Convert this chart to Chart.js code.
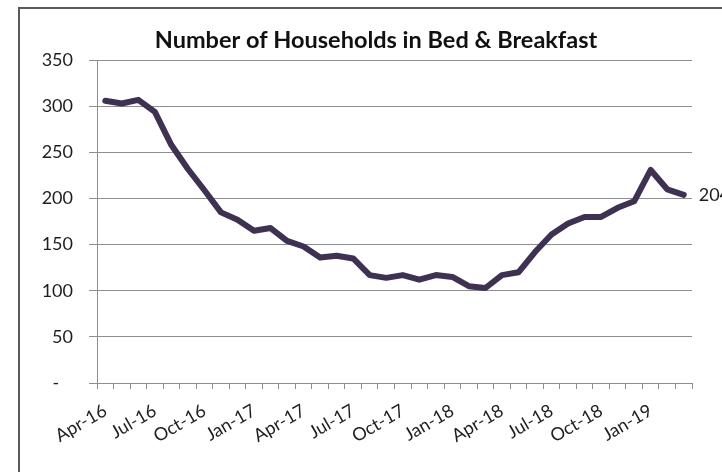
<!DOCTYPE html>
<html>
<head>
<meta charset="utf-8">
<title>Number of Households in Bed &amp; Breakfast</title>
<script src="https://cdn.jsdelivr.net/npm/chart.js@4/dist/chart.umd.min.js"></script>
<style>
	html, body { margin: 0; padding: 0; background: #fff; overflow: hidden; }
	#wrap { position: relative; width: 722px; height: 472px; }
	#frame {
		position: absolute; left: 18px; top: 7px; width: 800px; height: 600px;
		border: 2px solid #5a5a5a; box-sizing: border-box;
	}
	#grafica { position: absolute; left: 0; top: 0; }
</style>
</head>
<body>
<div id="wrap">
	<div id="frame"></div>
	<canvas id="grafica" width="722" height="472"></canvas>
</div>
<script>
const months = [
	"Apr-16", "May-16", "Jun-16", "Jul-16", "Aug-16", "Sep-16",
	"Oct-16", "Nov-16", "Dec-16", "Jan-17", "Feb-17", "Mar-17",
	"Apr-17", "May-17", "Jun-17", "Jul-17", "Aug-17", "Sep-17",
	"Oct-17", "Nov-17", "Dec-17", "Jan-18", "Feb-18", "Mar-18",
	"Apr-18", "May-18", "Jun-18", "Jul-18", "Aug-18", "Sep-18",
	"Oct-18", "Nov-18", "Dec-18", "Jan-19", "Feb-19", "Mar-19",
];
const households = [
	306, 303, 307, 294, 258, 232,
	209, 185, 177, 165, 168, 154,
	148, 136, 138, 135, 117, 114,
	117, 112, 117, 115, 105, 103,
	117, 120, 142, 161, 173, 180,
	180, 190, 197, 231, 210, 204,
];
const tickLabels = [
	"Apr-16", "Jul-16", "Oct-16", "Jan-17", "Apr-17", "Jul-17",
	"Oct-17", "Jan-18", "Apr-18", "Jul-18", "Oct-18", "Jan-19",
];
const yTicks = [0, 50, 100, 150, 200, 250, 300, 350];

const FONT = "Lato, 'DejaVu Sans', sans-serif";
const TEXT = "#1e1e1e";
const GRID = "#8e8e8e";

// etiqueta con el ultimo valor a la derecha de la linea
const lastValueLabel = {
	id: "lastValueLabel",
	afterDatasetsDraw(chart) {
		const meta = chart.getDatasetMeta(0);
		const i = meta.data.length - 1;
		const pt = meta.data[i];
		const ctx = chart.ctx;
		ctx.save();
		ctx.font = "18px " + FONT;
		ctx.fillStyle = TEXT;
		ctx.textAlign = "left";
		ctx.textBaseline = "middle";
		ctx.fillText(String(chart.data.datasets[0].data[i]), pt.x + 15, pt.y);
		ctx.restore();
	},
};

new Chart(document.getElementById("grafica"), {
	type: "line",
	data: {
		labels: months,
		datasets: [
			{
				label: "Households",
				data: households,
				borderColor: "#3f3152",
				borderWidth: 6,
				borderJoinStyle: "round",
				borderCapStyle: "round",
				pointRadius: 0,
				tension: 0,
				fill: false,
			},
		],
	},
	options: {
		responsive: false,
		animation: false,
		devicePixelRatio: 1,
		layout: { padding: { left: 30, right: 0, top: 0, bottom: 0 } },
		scales: {
			x: {
				offset: true,
				grid: {
					offset: true,
					drawOnChartArea: false,
					drawTicks: true,
					tickLength: 6,
					color: GRID,
				},
				border: { color: GRID, width: 1 },
				ticks: {
					autoSkip: false,
					minRotation: 30,
					maxRotation: 30,
					padding: 11,
					color: TEXT,
					font: { family: FONT, size: 18 },
					callback: function (value) {
						const label = this.getLabelForValue(value);
						return tickLabels.includes(label) ? label : "";
					},
				},
				afterFit: (scale) => { scale.height = 89; },
			},
			y: {
				min: 0,
				max: 350,
				afterBuildTicks: (scale) => {
					scale.ticks = yTicks.map((v) => ({ value: v }));
				},
				grid: {
					color: GRID,
					tickLength: 8,
				},
				border: { color: GRID, width: 1 },
				ticks: {
					padding: 16,
					color: TEXT,
					font: { family: FONT, size: 18 },
					callback: (v) => (v === 0 ? "-   " : v),
				},
				afterFit: (scale) => { scale.width = 67; },
			},
			// eje vacio a la derecha: deja sitio para la etiqueta final
			espacio: {
				type: "linear",
				position: "right",
				grid: { display: false },
				border: { display: false },
				ticks: { display: false },
				afterFit: (scale) => { scale.width = 30; },
			},
		},
		plugins: {
			legend: { display: false },
			tooltip: { enabled: false },
			title: {
				display: true,
				text: "Number of Households in Bed & Breakfast",
				color: "#111",
				font: { family: FONT, size: 23.5, weight: "bold", lineHeight: 1.2 },
				padding: { top: 26, bottom: 6 },
			},
		},
	},
	plugins: [lastValueLabel],
});
</script>
</body>
</html>
